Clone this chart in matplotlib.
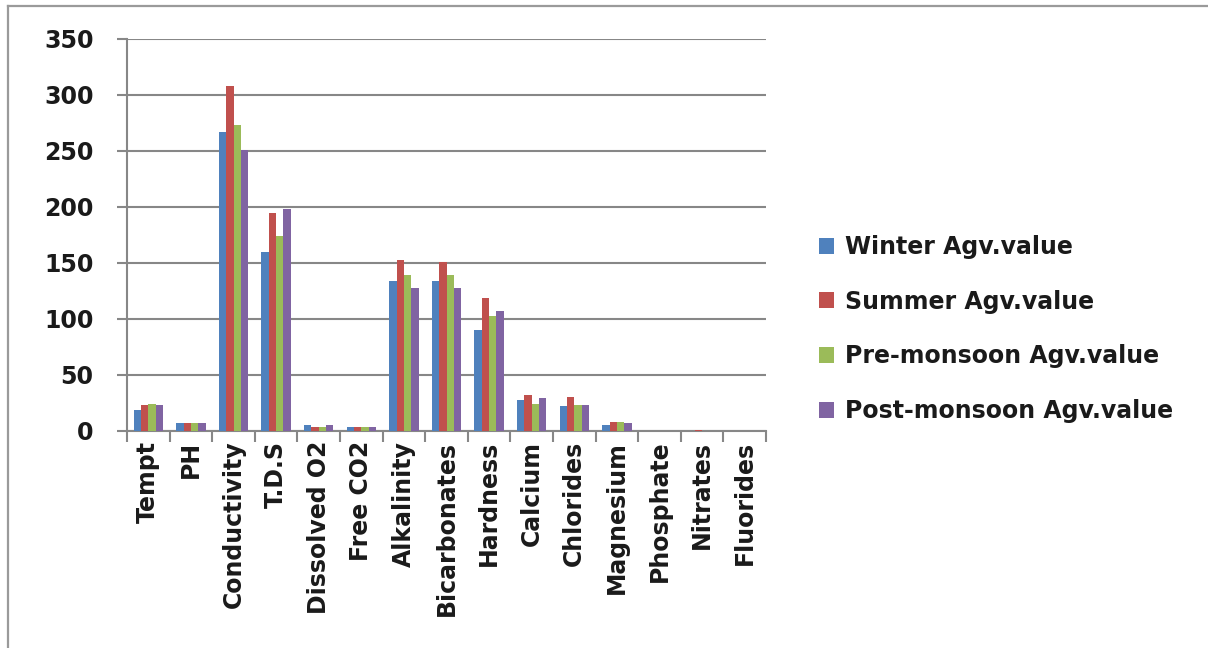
import matplotlib
matplotlib.use("Agg")
import matplotlib.pyplot as plt
import numpy as np
from matplotlib.patches import Patch
from matplotlib.lines import Line2D

categories = ["Tempt", "PH", "Conductivity", "T.D.S", "Dissolved O2", "Free CO2",
              "Alkalinity", "Bicarbonates", "Hardness", "Calcium", "Chlorides",
              "Magnesium", "Phosphate", "Nitrates", "Fluorides"]
winter = [19, 7.2, 267, 160, 5.3, 3.6, 134, 134, 90, 27.5, 22, 5.3, 0.3, 0.4, 0.2]
summer = [23, 7.2, 308, 195, 3.9, 3.4, 153, 151, 119, 32.5, 30, 8.4, 0.4, 0.5, 0.3]
premonsoon = [24.5, 7.1, 273, 174, 3.5, 3.2, 139, 139, 103, 24.5, 23.5, 8.3, 0.3, 0.4, 0.2]
postmonsoon = [23, 7.1, 251, 198, 5.0, 4.0, 128, 128, 107, 29.5, 23.5, 7.3, 0.3, 0.4, 0.2]
series_names = ["Winter Agv.value", "Summer Agv.value", "Pre-monsoon Agv.value", "Post-monsoon Agv.value"]
colors = ["#4F81BD", "#C0504D", "#9BBB59", "#8064A2"]
yticks = [0, 50, 100, 150, 200, 250, 300, 350]

W, H = 1208, 648
fig = plt.figure(figsize=(W / 100, H / 100), dpi=100)
ax = fig.add_axes([127 / W, 1 - 431 / H, (766 - 127) / W, (431 - 39) / H])

font = "DejaVu Sans"
fs = 17
fw = "bold"
tc = "#1a1a1a"
gray = "#878787"

data = [winter, summer, premonsoon, postmonsoon]
n = len(categories)
x = np.arange(n)
bw = 0.172
for i, (vals, c) in enumerate(zip(data, colors)):
    ax.bar(x + (i - 1.5) * bw, vals, width=bw, color=c, zorder=3, linewidth=0)

ax.set_xlim(-0.5, n - 0.5)
ax.set_ylim(0, 350)
ax.set_yticks(yticks)
ax.set_yticklabels([str(v) for v in yticks], fontsize=fs, family=font, weight=fw, color=tc)
ax.yaxis.grid(True, color=gray, linewidth=1.5, zorder=0)
ax.set_axisbelow(True)

ax.set_xticks(np.arange(n + 1) - 0.5)
ax.set_xticklabels([])
ax.set_xticks(x, minor=True)
ax.set_xticklabels(categories, minor=True, rotation=90, ha="center", va="top",
                   fontsize=fs, family=font, weight=fw, color=tc)
ax.tick_params(axis="x", which="major", length=8, width=1.5, color=gray, direction="out")
ax.tick_params(axis="x", which="minor", length=0, pad=7)
ax.tick_params(axis="y", length=7.2, width=1.5, color=gray, pad=17)

for s in ["top", "right"]:
    ax.spines[s].set_visible(False)
for s in ["left", "bottom"]:
    ax.spines[s].set_color(gray)
    ax.spines[s].set_linewidth(1.5)

handles = [Patch(facecolor=c, edgecolor="none") for c in colors]
leg = fig.legend(handles, series_names, loc="center left",
                 bbox_to_anchor=(819 / W, 1 - 329 / H), frameon=False,
                 prop={"family": font, "size": fs, "weight": fw},
                 handlelength=0.65, handleheight=0.65,
                 handletextpad=0.45, labelspacing=1.3, borderaxespad=0, borderpad=0)
for t in leg.get_texts():
    t.set_color(tc)

# outer border (top and left visible)
fig.add_artist(Line2D([8 / W, 1.0], [1 - 6 / H, 1 - 6 / H], color="#9a9a9a", linewidth=1.6, transform=fig.transFigure))
fig.add_artist(Line2D([8 / W, 8 / W], [0, 1 - 6 / H], color="#9a9a9a", linewidth=1.6, transform=fig.transFigure))

fig.savefig("out.png", dpi=100)
